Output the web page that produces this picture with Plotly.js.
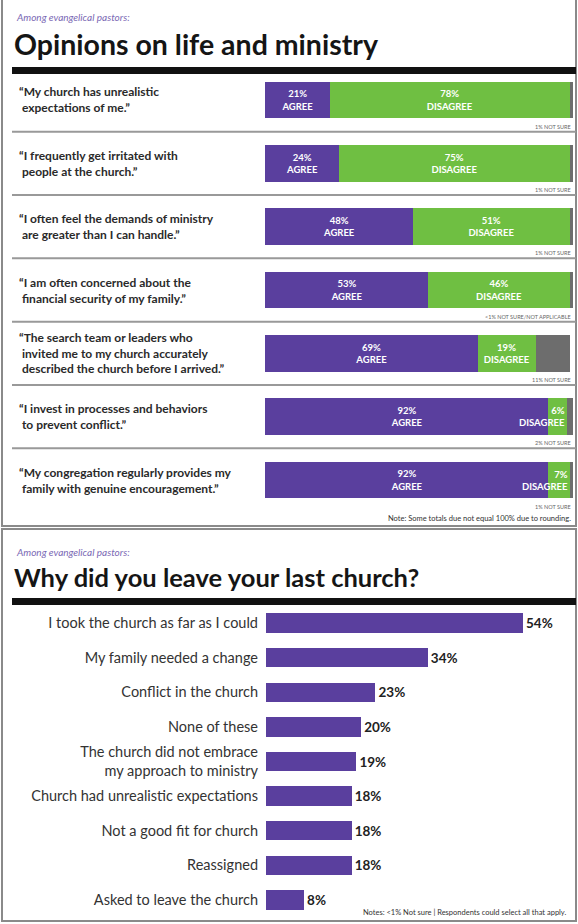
<!DOCTYPE html>
<html>
<head>
<meta charset="utf-8">
<script src="https://cdn.plot.ly/plotly-3.0.1.min.js"></script>
<style>html,body{margin:0;padding:0;background:#fff;}#chart{width:578px;height:924px;}</style>
</head>
<body>
<div id="chart"></div>
<script>
// ---- Data: top chart ----
const statements = [
  "“My church has unrealistic<br>expectations of me.”",
  "“I frequently get irritated with<br>people at the church.”",
  "“I often feel the demands of ministry<br>are greater than I can handle.”",
  "“I am often concerned about the<br>financial security of my family.”",
  "“The search team or leaders who<br>invited me to my church accurately<br>described the church before I arrived.”",
  "“I invest in processes and behaviors<br>to prevent conflict.”",
  "“My congregation regularly provides my<br>family with genuine encouragement.”"
];
const agree = [21, 24, 48, 53, 69, 92, 92];
const disagree = [78, 75, 51, 46, 19, 6, 7];
const notSure = [1, 1, 1, 1, 11, 2, 1];
const notSureLabels = ["1% NOT SURE", "1% NOT SURE", "1% NOT SURE", "<1% NOT SURE/NOT APPLICABLE", "11% NOT SURE", "2% NOT SURE", "1% NOT SURE"];

// ---- Data: bottom chart ----
const reasons = [
  "I took the church as far as I could",
  "My family needed a change",
  "Conflict in the church",
  "None of these",
  "The church did not embrace<br>my approach to ministry",
  "Church had unrealistic expectations",
  "Not a good fit for church",
  "Reassigned",
  "Asked to leave the church"
];
const reasonValues = [54, 34, 23, 20, 19, 18, 18, 18, 8];

// ---- Text ----
const kicker = "Among evangelical pastors:";
const title1 = "Opinions on life and ministry";
const title2 = "Why did you leave your last church?";
const note1 = "Note: Some totals due not equal 100% due to rounding.";
const note2 = "Notes: <1% Not sure | Respondents could select all that apply.";

const W = 578, H = 924;
const px = p => p / W;
const py = p => 1 - p / H;
const PURPLE = "#5a3f9e", GREEN = "#6fbf42", GRAY = "#6d6d6d";
const FONT = "Lato, 'Open Sans', sans-serif";

const smallDis = disagree.map(v => v < 10);

const traces = [
  {
    type: "bar", orientation: "h", y: statements, x: agree, xaxis: "x", yaxis: "y",
    marker: {color: PURPLE}, width: 0.58,
    texttemplate: "%{x}%<br>AGREE", textposition: "inside", insidetextanchor: "middle",
    constraintext: "none",
    textfont: {family: FONT, size: 9.5, color: "#ffffff", weight: 700},
    hoverinfo: "skip"
  },
  {
    type: "bar", orientation: "h", y: statements, x: disagree, xaxis: "x", yaxis: "y",
    marker: {color: GREEN}, width: 0.58,
    texttemplate: smallDis.map(s => s ? "" : "%{x}%<br>DISAGREE"),
    textposition: "inside", insidetextanchor: "middle", constraintext: "none",
    textfont: {family: FONT, size: 9.5, color: "#ffffff", weight: 700},
    hoverinfo: "skip"
  },
  {
    type: "bar", orientation: "h", y: statements, x: notSure, xaxis: "x", yaxis: "y",
    marker: {color: GRAY}, width: 0.58, hoverinfo: "skip"
  },
  {
    type: "bar", orientation: "h", y: reasons, x: reasonValues, xaxis: "x2", yaxis: "y2",
    marker: {color: PURPLE}, width: 0.56,
    texttemplate: "%{x}%", textposition: "outside", cliponaxis: false,
    textfont: {family: FONT, size: 13.5, color: "#222", weight: 700},
    hoverinfo: "skip"
  }
];

const annotations = [];
statements.forEach((s, i) => {
  annotations.push({
    xref: "paper", yref: "y", x: px(17), y: i, xanchor: "left", yanchor: "middle", align: "left",
    text: s.replace(/<br>/g, "<br>\u00a0"), showarrow: false,
    font: {family: FONT, size: 12, color: "#2a2a2a", weight: 700}
  });
  annotations.push({
    xref: "x", yref: "y", x: 100, y: i + 0.42, xanchor: "right", yanchor: "middle",
    text: notSureLabels[i], showarrow: false,
    font: {family: FONT, size: 5.5, color: "#666"}
  });
  if (smallDis[i]) {
    annotations.push({
      xref: "x", yref: "y", x: agree[i] + disagree[i], y: i, xanchor: "right", yanchor: "middle", align: "right",
      text: disagree[i] + "%<br>DISAGREE", showarrow: false,
      font: {family: FONT, size: 9.5, color: "#ffffff", weight: 700}
    });
  }
});
annotations.push(
  {xref: "paper", yref: "paper", x: px(14), y: py(17), xanchor: "left", yanchor: "middle", text: kicker, showarrow: false,
   font: {family: FONT, size: 10, color: "#7a68b4", style: "italic"}},
  {xref: "paper", yref: "paper", x: px(12), y: py(44), xanchor: "left", yanchor: "middle", text: title1, showarrow: false,
   font: {family: FONT, size: 28.5, color: "#151515", weight: 700}},
  {xref: "paper", yref: "paper", x: px(573), y: py(518), xanchor: "right", yanchor: "middle", text: note1, showarrow: false,
   font: {family: FONT, size: 7.5, color: "#333"}},
  {xref: "paper", yref: "paper", x: px(14), y: py(552), xanchor: "left", yanchor: "middle", text: kicker, showarrow: false,
   font: {family: FONT, size: 10, color: "#7a68b4", style: "italic"}},
  {xref: "paper", yref: "paper", x: px(12), y: py(577), xanchor: "left", yanchor: "middle", text: title2, showarrow: false,
   font: {family: FONT, size: 25.5, color: "#151515", weight: 700}},
  {xref: "paper", yref: "paper", x: px(568), y: py(912), xanchor: "right", yanchor: "middle", text: note2, showarrow: false,
   font: {family: FONT, size: 7.5, color: "#333"}}
);

const shapes = [
  {type: "rect", xref: "paper", yref: "paper", x0: px(2), x1: px(576), y0: py(526), y1: py(-5),
   line: {color: "#8a8a8a", width: 2}, fillcolor: "rgba(0,0,0,0)"},
  {type: "rect", xref: "paper", yref: "paper", x0: px(2), x1: px(576), y0: py(921), y1: py(529),
   line: {color: "#8a8a8a", width: 2}, fillcolor: "rgba(0,0,0,0)"},
  {type: "rect", xref: "paper", yref: "paper", x0: px(12), x1: px(576), y0: py(74), y1: py(67),
   line: {width: 0}, fillcolor: "#111"},
  {type: "rect", xref: "paper", yref: "paper", x0: px(12), x1: px(576), y0: py(605), y1: py(598),
   line: {width: 0}, fillcolor: "#111"}
];
for (let i = 0; i < statements.length - 1; i++) {
  shapes.push({type: "line", xref: "paper", yref: "y", x0: px(12), x1: px(576), y0: i + 0.5, y1: i + 0.5,
    line: {color: "#999", width: 2}});
}

const layout = {
  width: W, height: H,
  margin: {l: 0, r: 0, t: 0, b: 0},
  paper_bgcolor: "#fff", plot_bgcolor: "rgba(0,0,0,0)",
  showlegend: false, barmode: "stack",
  font: {family: FONT},
  xaxis: {domain: [px(265), px(573)], range: [0, 100], visible: false, fixedrange: true},
  yaxis: {domain: [py(511.7), py(68.3)], type: "category", range: [6.5, -0.5], autorange: false, visible: false, fixedrange: true},
  xaxis2: {domain: [px(266), px(573)], range: [0, 64.5], visible: false, anchor: "y2", fixedrange: true},
  yaxis2: {domain: [py(917.3), py(605.7)], type: "category", range: [8.5, -0.5], autorange: false, anchor: "x2",
    showgrid: false, zeroline: false, showline: false, ticks: "", ticklabelstandoff: 7,
    tickfont: {family: FONT, size: 14.5, color: "#333"}, fixedrange: true},
  annotations: annotations,
  shapes: shapes
};

Plotly.newPlot("chart", traces, layout, {displayModeBar: false, staticPlot: true});
</script>
</body>
</html>
